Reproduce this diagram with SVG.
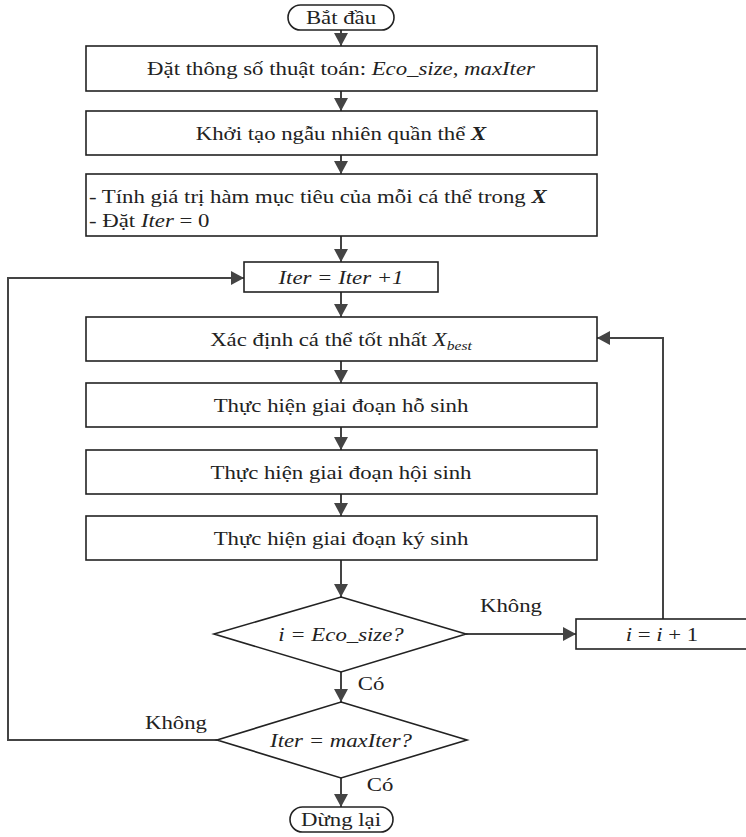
<svg xmlns="http://www.w3.org/2000/svg" width="746" height="837" viewBox="0 0 746 837">
<style>
.box{fill:#fff;stroke:#222;stroke-width:1.6}
.ln{fill:none;stroke:#444;stroke-width:2}
.t{font-family:"Liberation Serif","Times New Roman",serif;font-size:19px;fill:#222}
.c{text-anchor:middle}
.i{font-style:italic}
.b{font-weight:bold;font-style:italic}
</style>
<defs>
<marker id="ah" markerUnits="userSpaceOnUse" markerWidth="14" markerHeight="14" refX="13" refY="7" orient="auto">
<path d="M0,0 L13,7 L0,14 z" fill="#444"/>
</marker>
</defs>
<g id="connectors">
<path class="ln" d="M341,30 V46" marker-end="url(#ah)"/>
<path class="ln" d="M341,91 V111" marker-end="url(#ah)"/>
<path class="ln" d="M341,155 V174" marker-end="url(#ah)"/>
<path class="ln" d="M341,236 V262" marker-end="url(#ah)"/>
<path class="ln" d="M341,292 V317" marker-end="url(#ah)"/>
<path class="ln" d="M341,361 V383" marker-end="url(#ah)"/>
<path class="ln" d="M341,427 V450" marker-end="url(#ah)"/>
<path class="ln" d="M341,494 V516" marker-end="url(#ah)"/>
<path class="ln" d="M341,560 V597" marker-end="url(#ah)"/>
<path class="ln" d="M466,634 H576" marker-end="url(#ah)"/>
<path class="ln" d="M663,619 V338 H597" marker-end="url(#ah)"/>
<path class="ln" d="M341,672 V702" marker-end="url(#ah)"/>
<path class="ln" d="M217,740 H8 V278 H244" marker-end="url(#ah)"/>
<path class="ln" d="M341,778 V807" marker-end="url(#ah)"/>
<g transform="translate(511,0) scale(1.2,1)"><text class="t c" x="0" y="612">Không</text></g>
<g transform="translate(371,0) scale(1.2,1)"><text class="t c" x="0" y="690">Có</text></g>
<g transform="translate(176,0) scale(1.2,1)"><text class="t c" x="0" y="729">Không</text></g>
<g transform="translate(380,0) scale(1.2,1)"><text class="t c" x="0" y="791">Có</text></g>
</g>
<g id="start">
<rect class="box" x="288" y="5" width="106" height="25" rx="12.5"/>
<g transform="translate(341,0) scale(1.2,1)"><text class="t c" x="0" y="24">Bắt đầu</text></g>
</g>
<g id="params">
<rect class="box" x="86" y="46" width="511" height="45"/>
<g transform="translate(341,0) scale(1.2,1)"><text class="t c" x="0" y="75">Đặt thông số thuật toán: <tspan class="i">Eco_size</tspan>, <tspan class="i">maxIter</tspan></text></g>
</g>
<g id="init">
<rect class="box" x="86" y="111" width="511" height="44"/>
<g transform="translate(341,0) scale(1.2,1)"><text class="t c" x="0" y="140">Khởi tạo ngẫu nhiên quần thể <tspan class="b">X</tspan></text></g>
</g>
<g id="eval">
<rect class="box" x="86" y="174" width="511" height="62"/>
<g transform="translate(89,0) scale(1.2,1)">
<text class="t" x="0" y="203">- Tính giá trị hàm mục tiêu của mỗi cá thể trong <tspan class="b">X</tspan></text>
<text class="t" x="0" y="227">- Đặt <tspan class="i">Iter</tspan> = 0</text>
</g>
</g>
<g id="iter">
<rect class="box" x="244" y="262" width="194" height="30"/>
<g transform="translate(341,0) scale(1.2,1)"><text class="t c i" x="0" y="284">Iter = Iter +1</text></g>
</g>
<g id="best">
<rect class="box" x="86" y="317" width="511" height="44"/>
<g transform="translate(341,0) scale(1.2,1)"><text class="t c" x="0" y="346">Xác định cá thể tốt nhất <tspan class="i">X</tspan><tspan class="i" font-size="13" dy="4">best</tspan></text></g>
</g>
<g id="mutualism">
<rect class="box" x="86" y="383" width="511" height="44"/>
<g transform="translate(341,0) scale(1.2,1)"><text class="t c" x="0" y="412">Thực hiện giai đoạn hỗ sinh</text></g>
</g>
<g id="commensalism">
<rect class="box" x="86" y="450" width="511" height="44"/>
<g transform="translate(341,0) scale(1.2,1)"><text class="t c" x="0" y="479">Thực hiện giai đoạn hội sinh</text></g>
</g>
<g id="parasitism">
<rect class="box" x="86" y="516" width="511" height="44"/>
<g transform="translate(341,0) scale(1.2,1)"><text class="t c" x="0" y="545">Thực hiện giai đoạn ký sinh</text></g>
</g>
<g id="check-i">
<polygon class="box" points="341,597 466,634 341,672 214,634"/>
<g transform="translate(341,0) scale(1.2,1)"><text class="t c i" x="0" y="641">i = Eco_size?</text></g>
</g>
<g id="inc-i">
<rect class="box" x="576" y="619" width="180" height="30"/>
<g transform="translate(662,0) scale(1.2,1)"><text class="t c" x="0" y="641"><tspan class="i">i</tspan> = <tspan class="i">i</tspan> + 1</text></g>
</g>
<g id="check-iter">
<polygon class="box" points="341,702 467,740 341,778 217,740"/>
<g transform="translate(341,0) scale(1.2,1)"><text class="t c i" x="0" y="747">Iter = maxIter?</text></g>
</g>
<g id="stop">
<rect class="box" x="290" y="807" width="103" height="25" rx="12.5"/>
<g transform="translate(341,0) scale(1.2,1)"><text class="t c" x="0" y="826">Dừng lại</text></g>
</g>
</svg>
